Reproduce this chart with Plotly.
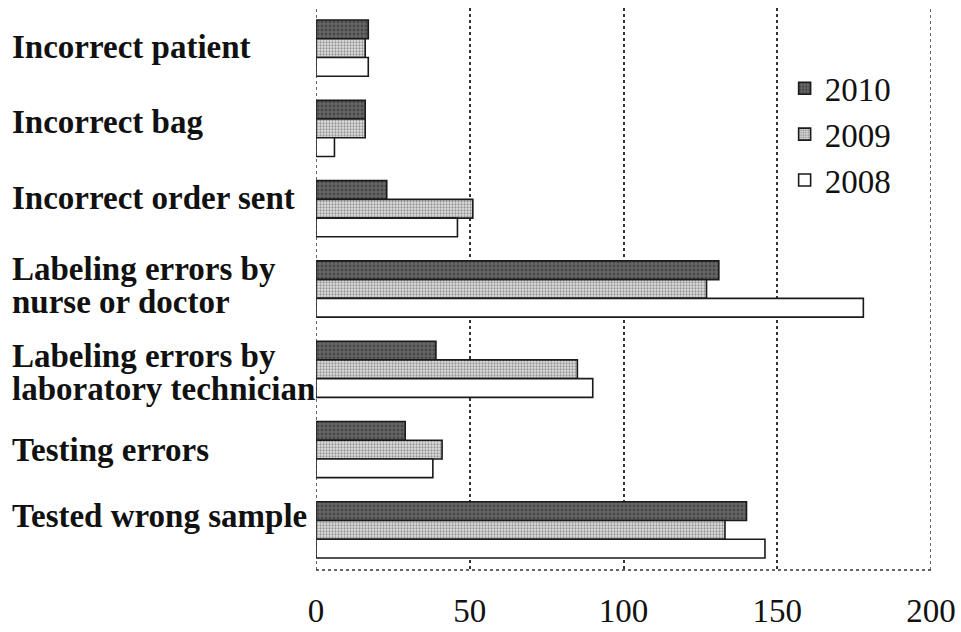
import plotly.graph_objects as go

categories = [
    "Incorrect patient",
    "Incorrect bag",
    "Incorrect order sent",
    "Labeling errors by<br>nurse or doctor",
    "Labeling errors by<br>laboratory technician",
    "Testing errors",
    "Tested wrong sample",
]
years = ["2010", "2009", "2008"]
values_2010 = [17, 16, 23, 131, 39, 29, 140]
values_2009 = [16, 16, 51, 127, 85, 41, 133]
values_2008 = [17, 6, 46, 178, 90, 38, 146]
x_ticks = [0, 50, 100, 150, 200]

# vertical nudges (px, upward) of the category labels, as placed in the original
label_nudge = [1, 6, 11, 4, -3, 0, 14]

series = {"2010": values_2010, "2009": values_2009, "2008": values_2008}
styles = {
    "2010": dict(color="#555555", pattern=dict(shape=".", fgcolor="#2a2a2a", bgcolor="#666666", size=4, solidity=0.4)),
    "2009": dict(color="#bbbbbb", pattern=dict(shape=".", fgcolor="#4a4a4a", bgcolor="#e0e0e0", size=3, solidity=0.45)),
    "2008": dict(color="#ffffff"),
}

FONT = "Liberation Serif"
fig = go.Figure()
for y in years:
    st = styles[y]
    marker = dict(color=st["color"], line=dict(color="#1a1a1a", width=1.6))
    if "pattern" in st:
        marker["pattern"] = st["pattern"]
    fig.add_trace(go.Bar(
        x=series[y], y=categories, name=y, orientation="h",
        marker=marker, legendgroup=y,
    ))

annotations = []
line_h = 33
for cat, nudge in zip(categories, label_nudge):
    lines = cat.split("<br>")
    n = len(lines)
    for i, ln in enumerate(lines):
        annotations.append(dict(
            x=-0.4976, xref="paper", y=cat, yref="y",
            text="<b>" + ln + "</b>", showarrow=False,
            xanchor="left", yanchor="middle",
            yshift=((n - 1) / 2 - i) * line_h + nudge,
            font=dict(family=FONT, size=33, color="#111111"),
        ))

grid_line = dict(color="#333333", width=1.5, dash="dot")
shapes = [dict(type="line", xref="paper", yref="paper", x0=0, x1=1, y0=0, y1=0, line=grid_line)]
for v in (x_ticks[0], x_ticks[-1]):
    shapes.append(dict(type="line", xref="x", yref="paper", x0=v, x1=v, y0=0, y1=1, line=grid_line))

fig.update_layout(
    width=961, height=632,
    margin=dict(l=316, r=30, t=8, b=62, autoexpand=False),
    paper_bgcolor="white", plot_bgcolor="white",
    barmode="group", bargap=0.3, bargroupgap=0,
    font=dict(family=FONT, color="#111111"),
    legend=dict(
        x=0.762, y=0.907, xanchor="left", yanchor="top",
        font=dict(family=FONT, size=33, color="#111111"),
        tracegroupgap=0, bgcolor="rgba(0,0,0,0)",
    ),
    annotations=annotations,
    shapes=shapes,
)
fig.update_xaxes(
    range=[0, 200], tickvals=x_ticks, ticktext=[str(v) for v in x_ticks],
    showgrid=True, gridcolor="#333333", gridwidth=1.5, griddash="dot",
    zeroline=False, showline=False, ticks="", automargin=False,
    tickfont=dict(family=FONT, size=33, color="#111111"),
    ticklabelstandoff=18,
)
fig.update_yaxes(
    autorange="reversed", showticklabels=False, showgrid=False,
    zeroline=False, showline=False, ticks="", automargin=False,
)

fig.write_html("out.html")
